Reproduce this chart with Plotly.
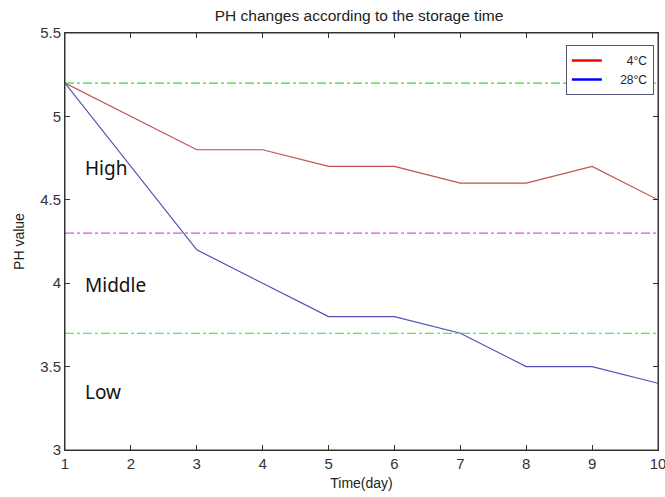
import plotly.graph_objects as go

days = [1, 2, 3, 4, 5, 6, 7, 8, 9, 10]
ph_4c = [5.2, 5.0, 4.8, 4.8, 4.7, 4.7, 4.6, 4.6, 4.7, 4.5]
ph_28c = [5.2, 4.7, 4.2, 4.0, 3.8, 3.8, 3.7, 3.5, 3.5, 3.4]
series_names = ["4°C", "28°C"]
level_lines = [5.2, 4.3, 3.7]
level_colors = ["#33dd33", "#dd55dd", "#33dd33"]
level_labels = ["High", "Middle", "Low"]
level_label_y = [4.69, 3.99, 3.35]
x_ticks = [1, 2, 3, 4, 5, 6, 7, 8, 9, 10]
y_ticks = [3, 3.5, 4, 4.5, 5, 5.5]

FONT = "Liberation Sans, Arial, sans-serif"
LABEL_FONT = "Noto Sans, sans-serif"

fig = go.Figure()
fig.add_trace(go.Scatter(x=days, y=ph_4c, mode="lines",
                         line=dict(color="#c0504d", width=1.2), showlegend=False))
fig.add_trace(go.Scatter(x=days, y=ph_28c, mode="lines",
                         line=dict(color="#5050b4", width=1.2), showlegend=False))
# legend entries (pure colours, thicker lines as in reference)
fig.add_trace(go.Scatter(x=[None], y=[None], mode="lines", name="      " + series_names[0],
                         line=dict(color="#ff0000", width=2.5)))
fig.add_trace(go.Scatter(x=[None], y=[None], mode="lines", name="    " + series_names[1],
                         line=dict(color="#0000ff", width=2.5)))

for yv, col in zip(level_lines, level_colors):
    fig.add_hline(y=yv, line=dict(color=col, width=1.2, dash="dashdot"))

for lab, yv in zip(level_labels, level_label_y):
    fig.add_annotation(x=1.27, y=yv, text=lab, showarrow=False, xanchor="left",
                       yanchor="middle", font=dict(family=LABEL_FONT, size=19, color="#111111"))

# plot frame (box around the axes)
fig.add_shape(type="rect", xref="paper", yref="paper", x0=0, x1=1, y0=0, y1=1,
              line=dict(color="#333333", width=1), layer="above")

axis_common = dict(showgrid=False, zeroline=False, showline=True, mirror="allticks",
                   linecolor="#333333", linewidth=1, ticks="inside", ticklen=5,
                   tickcolor="#333333", tickfont=dict(family=FONT, size=15, color="#333333"),
                   ticklabeloverflow="allow", automargin=False)

fig.update_xaxes(range=[1, 10], tickvals=x_ticks,
                 title=dict(text="Time(day)", font=dict(family=FONT, size=14, color="#222222"),
                            standoff=7),
                 **axis_common)
fig.update_yaxes(range=[3, 5.5], tickvals=y_ticks,
                 title=dict(text="PH value", font=dict(family=FONT, size=14, color="#222222"),
                            standoff=12),
                 **axis_common)

fig.update_layout(
    width=665, height=497,
    margin=dict(l=65, r=7, t=33, b=47),
    plot_bgcolor="white", paper_bgcolor="white",
    title=dict(text="PH changes according to the storage time", x=0.54, xanchor="center",
               y=0.968, yanchor="middle",
               font=dict(family=FONT, size=15.5, color="#222222")),
    legend=dict(x=0.993, xanchor="right", y=0.971, yanchor="top",
                bgcolor="white", bordercolor="#555577", borderwidth=1,
                font=dict(family=FONT, size=12, color="#222222"),
                tracegroupgap=0, itemwidth=30),
    showlegend=True,
)

fig.write_html("out.html", config={"displayModeBar": False},
               post_script="document.body.style.margin='0';document.body.style.overflow='hidden';")
